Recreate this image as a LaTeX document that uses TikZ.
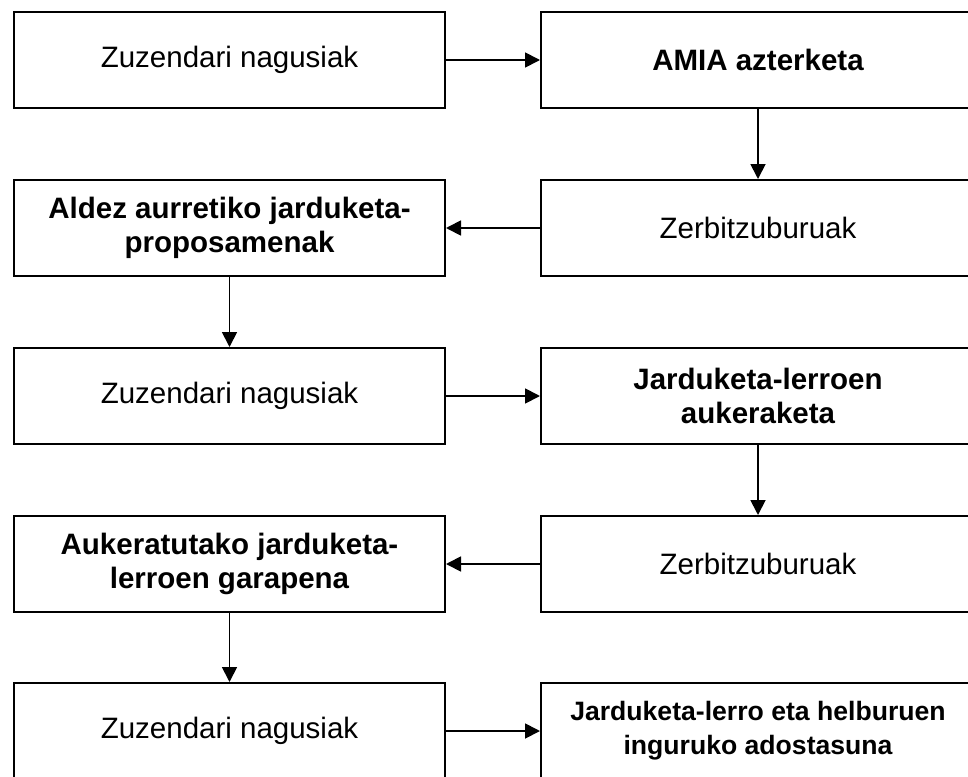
\documentclass[tikz,border=0pt]{standalone}
\usepackage{fontspec}
\setmainfont{Liberation Sans}
\usetikzlibrary{arrows.meta}
\begin{document}
\begin{tikzpicture}[x=1pt,y=-1pt,
  box/.style={draw,line width=2pt,rectangle,minimum height=96pt,inner sep=0pt,align=center,
    font=\fontsize{29.5}{34}\selectfont},
  lbox/.style={box,minimum width=431pt},
  rbox/.style={box,minimum width=434pt},
  bbold/.style={font=\fontsize{29.5}{34}\selectfont\bfseries},
  conn/.style={line width=1.8pt,-{Triangle[length=15pt,width=15pt]}}]
\useasboundingbox (0,0) rectangle (968,776);
\clip (0,0) rectangle (968,776);
\node[lbox] (l1) at (229.5,60) {Zuzendari nagusiak};
\node[rbox,bbold] (r1) at (758,60) {AMIA azterketa};
\node[rbox] (r2) at (758,228) {Zerbitzuburuak};
\node[lbox,bbold] (l2) at (229.5,228) {Aldez aurretiko jarduketa-\\proposamenak};
\node[lbox] (l3) at (229.5,396) {Zuzendari nagusiak};
\node[rbox,bbold] (r3) at (758,396) {Jarduketa-lerroen\\aukeraketa};
\node[rbox] (r4) at (758,564) {Zerbitzuburuak};
\node[lbox,bbold] (l4) at (229.5,564) {Aukeratutako jarduketa-\\lerroen garapena};
\node[lbox] (l5) at (229.5,731) {Zuzendari nagusiak};
\node[rbox,font=\fontsize{26.6}{34}\selectfont\bfseries] (r5) at (758,731) {Jarduketa-lerro eta helburuen\\inguruko adostasuna};
\draw[conn] (l1.east) -- (r1.west);
\draw[conn] (r1.south) -- (r2.north);
\draw[conn] (r2.west) -- (l2.east);
\draw[conn] (l2.south) -- (l3.north);
\draw[conn] (l3.east) -- (r3.west);
\draw[conn] (r3.south) -- (r4.north);
\draw[conn] (r4.west) -- (l4.east);
\draw[conn] (l4.south) -- (l5.north);
\draw[conn] (l5.east) -- (r5.west);
\end{tikzpicture}
\end{document}
